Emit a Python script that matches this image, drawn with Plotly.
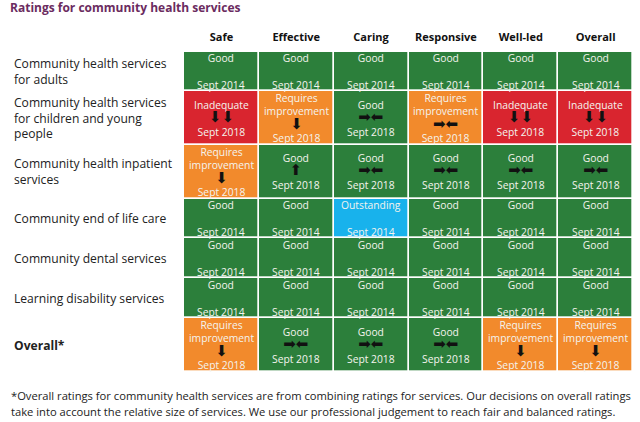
import plotly.graph_objects as go

# ---------------- data ----------------
domains = ["Safe", "Effective", "Caring", "Responsive", "Well-led", "Overall"]
services = [
    "Community health services<br>for adults",
    "Community health services<br>for children and young<br>people",
    "Community health inpatient<br>services",
    "Community end of life care",
    "Community dental services",
    "Learning disability services",
    "<b>Overall*</b>",
]
ratings = [
    ["Good", "Good", "Good", "Good", "Good", "Good"],
    ["Inadequate", "Requires improvement", "Good", "Requires improvement", "Inadequate", "Inadequate"],
    ["Requires improvement", "Good", "Good", "Good", "Good", "Good"],
    ["Good", "Good", "Outstanding", "Good", "Good", "Good"],
    ["Good", "Good", "Good", "Good", "Good", "Good"],
    ["Good", "Good", "Good", "Good", "Good", "Good"],
    ["Requires improvement", "Good", "Good", "Good", "Requires improvement", "Requires improvement"],
]
trends = [
    ["", "", "", "", "", ""],
    ["down2", "down", "same", "same", "down2", "down2"],
    ["down", "up", "same", "same", "same", "same"],
    ["", "", "", "", "", ""],
    ["", "", "", "", "", ""],
    ["", "", "", "", "", ""],
    ["down", "same", "same", "same", "down", "down"],
]
dates = [
    ["Sept 2014"] * 6,
    ["Sept 2018"] * 6,
    ["Sept 2018"] * 6,
    ["Sept 2014"] * 6,
    ["Sept 2014"] * 6,
    ["Sept 2014"] * 6,
    ["Sept 2018"] * 6,
]
footnote = [
    "*Overall ratings for community health services are from combining ratings for services. Our decisions on overall ratings",
    "take into account the relative size of services. We use our professional judgement to reach fair and balanced ratings.",
]

# ---------------- styling ----------------
levels = ["Outstanding", "Good", "Requires improvement", "Inadequate"]
level_colors = ["#18b2ec", "#2c7f3b", "#f28a2c", "#d9252f"]
row_heights = [39, 54, 53.5, 39.5, 40, 40, 54]
W, H = 640, 422
ML, MR, MT, MB = 184, 7.3, 51.7, 50.3
arrow_glyph = {
    "down2": ("⬇⬇", 15),
    "down": ("⬇", 15),
    "up": ("⬆", 15),
    "same": ("➡⬅", 15),
}
FONT = "Open Sans"

edges = [0]
for h in row_heights:
    edges.append(edges[-1] + h)
centers = [(edges[i] + edges[i + 1]) / 2 for i in range(len(row_heights))]

z = [[levels.index(r) for r in row] for row in ratings]
n = len(levels)
colorscale = []
for i, c in enumerate(level_colors):
    colorscale.append([i / n, c])
    colorscale.append([(i + 1) / n, c])

fig = go.Figure(
    go.Heatmap(
        z=z,
        x=list(range(len(domains) + 1)),
        y=edges,
        colorscale=colorscale,
        zmin=-0.5,
        zmax=n - 0.5,
        showscale=False,
        xgap=1.7,
        ygap=1.7,
        hoverinfo="skip",
    )
)

annotations = []
for ri, row in enumerate(ratings):
    for ci, rating in enumerate(row):
        tr = trends[ri][ci]
        if tr:
            glyph, gsize = arrow_glyph[tr]
            mid = ("<span style='fill:#111111;font-family:DejaVu Sans;font-size:%dpx'>" % gsize
                   + glyph + "</span>")
        else:
            mid = "\u00a0"
        lines = rating.split(" ") + [mid, dates[ri][ci]]
        annotations.append(dict(
            x=ci + 0.5, y=centers[ri], xref="x", yref="y", text="<br>".join(lines),
            showarrow=False, font=dict(family=FONT, size=10.3, color="#f4f4ee"),
            align="center", xanchor="center", yanchor="middle",
        ))

plot_w = W - ML - MR
for ri, s in enumerate(services):
    annotations.append(dict(
        x=(12 - ML) / plot_w, xref="paper", y=centers[ri], yref="y", text=s,
        showarrow=False, xanchor="left", yanchor="middle", align="left",
        font=dict(family=FONT, size=12.1, color="#222222"),
    ))

plot_h = H - MT - MB
for i, line in enumerate(footnote):
    ypix = 395 + i * 16.5
    annotations.append(dict(
        x=(9 - ML) / plot_w, xref="paper", y=(H - MB - ypix) / plot_h, yref="paper",
        text=line, showarrow=False, xanchor="left", yanchor="middle",
        font=dict(family=FONT, size=11.2, color="#222222"),
    ))

fig.update_layout(
    width=W, height=H,
    margin=dict(l=ML, r=MR, t=MT, b=MB, pad=0),
    paper_bgcolor="white", plot_bgcolor="white",
    title=dict(text="<b>Ratings for community health services</b>", x=10 / W, xref="container",
               xanchor="left", y=1 - 8 / H, yref="container", yanchor="middle",
               font=dict(family=FONT, size=12, color="#6b2b60")),
    xaxis=dict(side="top", range=[0, len(domains)], tickvals=[i + 0.5 for i in range(len(domains))],
               ticktext=["<b>" + d + "</b>" for d in domains], ticks="outside", ticklen=6,
               tickcolor="rgba(0,0,0,0)", showgrid=False, zeroline=False, showline=False,
               tickfont=dict(family=FONT, size=11, color="#111111"), fixedrange=True),
    yaxis=dict(range=[edges[-1], 0], showticklabels=False, showgrid=False, zeroline=False,
               showline=False, fixedrange=True),
    annotations=annotations,
)

fig.write_html("out.html", config={"displayModeBar": False},
               post_script="document.body.style.margin='0';")
